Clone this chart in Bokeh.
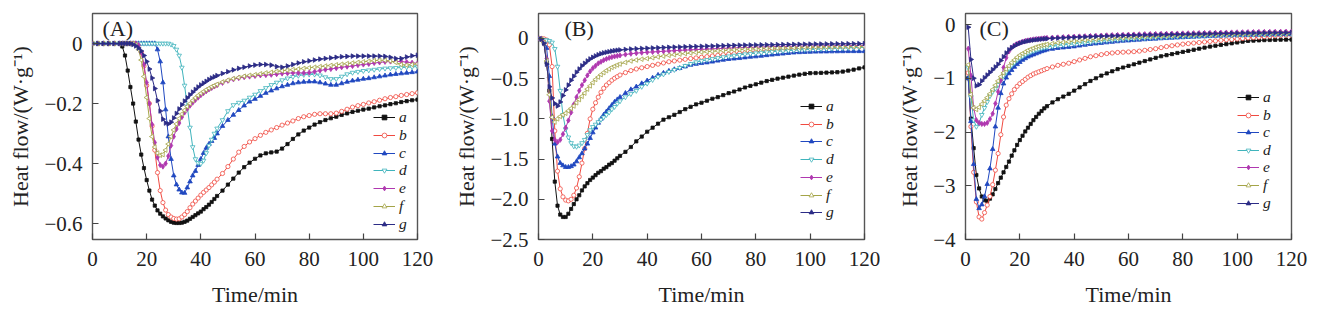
import math
from bokeh.plotting import figure
from bokeh.models import (Range1d, FixedTicker, CustomJSTickFormatter, Legend,
                          LegendItem, Label)
from bokeh.layouts import row
from bokeh.embed import file_html
from bokeh.resources import INLINE

# ---------------- data ----------------
SERIES = ["a", "b", "c", "d", "e", "f", "g"]

# time grids (min)
tA = [0, 2, 4, 6, 8, 10] + list(range(11, 47)) + list(range(48, 121, 2))
tB = list(range(0, 31)) + list(range(32, 121, 2))
tC = list(range(1, 31)) + list(range(32, 121, 2))

# Panel A  (W/g)
A_a = [0]*6 + [-0.01, -0.04, -0.09, -0.145, -0.2, -0.26, -0.32, -0.37, -0.415, -0.455,
               -0.49, -0.52, -0.54, -0.556, -0.567, -0.576, -0.583, -0.589, -0.594, -0.597,
               -0.598, -0.598, -0.597, -0.594, -0.59, -0.584, -0.578, -0.572, -0.566, -0.56,
               -0.552, -0.545, -0.537, -0.528, -0.518, -0.508] + \
      [-0.49, -0.47, -0.45, -0.43, -0.412, -0.397, -0.384, -0.373, -0.366, -0.363, -0.36, -0.35,
       -0.335, -0.318, -0.303, -0.29, -0.28, -0.27, -0.262, -0.255, -0.249, -0.244, -0.238, -0.233,
       -0.228, -0.224, -0.22, -0.217, -0.213, -0.209, -0.206, -0.202, -0.199, -0.195, -0.192, -0.189, -0.187]
A_b = [0]*12 + [-0.005, -0.03, -0.075, -0.14, -0.2, -0.275, -0.355, -0.43, -0.49, -0.53,
                -0.555, -0.57, -0.578, -0.583, -0.585, -0.584, -0.578, -0.57, -0.56, -0.547,
                -0.535, -0.525, -0.515, -0.505, -0.496, -0.488, -0.48, -0.471, -0.462, -0.452] + \
      [-0.433, -0.41, -0.385, -0.362, -0.343, -0.328, -0.317, -0.306, -0.296, -0.288, -0.28, -0.272,
       -0.265, -0.258, -0.25, -0.244, -0.24, -0.236, -0.234, -0.234, -0.234, -0.232, -0.226, -0.219,
       -0.212, -0.207, -0.203, -0.198, -0.194, -0.189, -0.184, -0.18, -0.177, -0.173, -0.17, -0.167, -0.164]
A_c = [0]*19 + [-0.02, -0.06, -0.13, -0.22, -0.31, -0.385, -0.44, -0.47, -0.487, -0.497,
                -0.498, -0.48, -0.46, -0.44, -0.425, -0.405, -0.385, -0.365, -0.348, -0.335,
                -0.325, -0.315, -0.3] + \
      [-0.275, -0.255, -0.238, -0.222, -0.207, -0.194, -0.185, -0.175, -0.165, -0.157, -0.15, -0.143,
       -0.138, -0.133, -0.13, -0.128, -0.127, -0.127, -0.13, -0.134, -0.138, -0.138, -0.133, -0.128,
       -0.124, -0.121, -0.118, -0.116, -0.113, -0.11, -0.107, -0.104, -0.102, -0.1, -0.098, -0.096, -0.094]
A_d = [0]*24 + [-0.003, -0.008, -0.02, -0.04, -0.08, -0.14, -0.21, -0.28, -0.345, -0.385,
                -0.398, -0.4, -0.39, -0.365, -0.34, -0.32, -0.3, -0.283] + \
      [-0.255, -0.225, -0.205, -0.197, -0.19, -0.18, -0.17, -0.158, -0.148, -0.138, -0.13, -0.122,
       -0.116, -0.111, -0.107, -0.104, -0.103, -0.103, -0.106, -0.112, -0.118, -0.118, -0.11, -0.102,
       -0.097, -0.094, -0.091, -0.089, -0.087, -0.085, -0.083, -0.082, -0.081, -0.08, -0.079, -0.078, -0.077]
A_e = [0]*12 + [-0.005, -0.03, -0.07, -0.13, -0.2, -0.27, -0.33, -0.38, -0.405, -0.41,
                -0.4, -0.375, -0.34, -0.31, -0.285, -0.265, -0.245, -0.23, -0.218, -0.207,
                -0.197, -0.188, -0.18, -0.172, -0.165, -0.159, -0.153, -0.148, -0.143, -0.139] + \
      [-0.131, -0.124, -0.119, -0.115, -0.112, -0.11, -0.108, -0.106, -0.105, -0.104, -0.102, -0.1,
       -0.099, -0.098, -0.098, -0.098, -0.097, -0.094, -0.09, -0.087, -0.085, -0.082, -0.079, -0.077,
       -0.075, -0.072, -0.07, -0.068, -0.065, -0.063, -0.061, -0.06, -0.06, -0.06, -0.062, -0.064, -0.066]
A_f = [0]*11 + [-0.005, -0.02, -0.055, -0.11, -0.18, -0.25, -0.31, -0.345, -0.365, -0.372,
                -0.37, -0.355, -0.335, -0.31, -0.288, -0.268, -0.25, -0.235, -0.222, -0.21,
                -0.2, -0.19, -0.181, -0.173, -0.166, -0.16, -0.154, -0.149, -0.144, -0.14, -0.136] + \
      [-0.128, -0.122, -0.117, -0.113, -0.109, -0.106, -0.104, -0.101, -0.098, -0.096, -0.093, -0.091,
       -0.089, -0.087, -0.085, -0.083, -0.081, -0.079, -0.077, -0.075, -0.073, -0.071, -0.069, -0.067,
       -0.065, -0.063, -0.061, -0.059, -0.057, -0.056, -0.056, -0.058, -0.063, -0.07, -0.072, -0.07, -0.068]
A_g = [0]*10 + [-0.003, -0.008, -0.015, -0.025, -0.04, -0.06, -0.085, -0.115, -0.15, -0.19,
                -0.225, -0.252, -0.265, -0.268, -0.262, -0.248, -0.233, -0.218, -0.204, -0.192,
                -0.181, -0.171, -0.162, -0.153, -0.145, -0.138, -0.132, -0.126, -0.12, -0.115,
                -0.111, -0.107] + \
      [-0.1, -0.094, -0.088, -0.083, -0.079, -0.075, -0.072, -0.07, -0.07, -0.072, -0.077, -0.079,
       -0.075, -0.07, -0.065, -0.061, -0.058, -0.055, -0.052, -0.05, -0.048, -0.046, -0.044, -0.043,
       -0.042, -0.042, -0.042, -0.042, -0.042, -0.042, -0.043, -0.046, -0.05, -0.05, -0.045, -0.041, -0.039]

# Panel B
B_a = [0, -0.01, -0.06, -0.3, -0.65, -1.25, -1.78, -2.08, -2.19, -2.22, -2.22,
       -2.18, -2.12, -2.06, -2.0, -1.95, -1.89, -1.84, -1.8, -1.76, -1.73,
       -1.7, -1.67, -1.65, -1.62, -1.6, -1.57, -1.55, -1.52, -1.49, -1.46,
       -1.41, -1.35, -1.28, -1.22, -1.16, -1.11, -1.06, -1.01, -0.98, -0.95,
       -0.915, -0.88, -0.85, -0.82, -0.8, -0.775, -0.75, -0.73, -0.705, -0.68,
       -0.66, -0.635, -0.61, -0.59, -0.57, -0.55, -0.53, -0.515, -0.5, -0.488,
       -0.475, -0.462, -0.45, -0.44, -0.432, -0.43, -0.428, -0.425, -0.423, -0.42,
       -0.412, -0.4, -0.388, -0.373, -0.36]
B_b = [0, 0, -0.005, -0.02, -0.08, -0.35, -1.15, -1.65, -1.87, -1.97, -2.01,
       -2.02, -2.0, -1.95, -1.86, -1.72, -1.55, -1.37, -1.18, -1.0, -0.88,
       -0.8, -0.73, -0.67, -0.62, -0.58, -0.55, -0.52, -0.495, -0.475, -0.455,
       -0.425, -0.4, -0.38, -0.365, -0.35, -0.335, -0.32, -0.305, -0.29, -0.28,
       -0.27, -0.26, -0.25, -0.242, -0.234, -0.226, -0.218, -0.21, -0.203, -0.196,
       -0.19, -0.184, -0.178, -0.172, -0.166, -0.16, -0.155, -0.15, -0.145, -0.14,
       -0.136, -0.132, -0.128, -0.124, -0.12, -0.117, -0.114, -0.111, -0.108, -0.105,
       -0.103, -0.101, -0.1, -0.099, -0.098]
B_c = [0, -0.005, -0.04, -0.12, -0.47, -0.97, -1.31, -1.47, -1.55, -1.58, -1.6,
       -1.6, -1.59, -1.57, -1.53, -1.48, -1.43, -1.37, -1.31, -1.24, -1.17,
       -1.11, -1.05, -1.0, -0.95, -0.91, -0.87, -0.83, -0.79, -0.76, -0.73,
       -0.68, -0.635, -0.6, -0.56, -0.525, -0.49, -0.455, -0.43, -0.405, -0.385,
       -0.37, -0.35, -0.33, -0.318, -0.308, -0.3, -0.29, -0.278, -0.267, -0.258,
       -0.252, -0.246, -0.238, -0.23, -0.225, -0.218, -0.21, -0.203, -0.197, -0.19,
       -0.183, -0.177, -0.173, -0.17, -0.168, -0.166, -0.165, -0.164, -0.163, -0.162,
       -0.161, -0.16, -0.16, -0.16, -0.16]
B_d = [0, -0.01, -0.02, -0.02, -0.03, -0.05, -0.13, -0.35, -0.65, -0.95, -1.13,
       -1.23, -1.3, -1.34, -1.345, -1.33, -1.3, -1.26, -1.2, -1.14, -1.1,
       -1.07, -1.04, -1.01, -0.98, -0.95, -0.92, -0.88, -0.85, -0.81, -0.78,
       -0.73, -0.69, -0.65, -0.6, -0.56, -0.515, -0.475, -0.445, -0.415, -0.39,
       -0.365, -0.34, -0.315, -0.295, -0.28, -0.267, -0.255, -0.243, -0.232, -0.222,
       -0.213, -0.204, -0.196, -0.19, -0.183, -0.177, -0.171, -0.165, -0.16, -0.155,
       -0.151, -0.147, -0.143, -0.14, -0.137, -0.134, -0.131, -0.128, -0.125, -0.122,
       -0.12, -0.117, -0.115, -0.112, -0.11]
B_e = [0, -0.01, -0.05, -0.25, -0.78, -1.15, -1.26, -1.29, -1.26, -1.19, -1.11,
       -1.02, -0.92, -0.82, -0.73, -0.65, -0.58, -0.52, -0.46, -0.41, -0.37,
       -0.34, -0.31, -0.29, -0.27, -0.255, -0.242, -0.232, -0.224, -0.217, -0.211,
       -0.2, -0.19, -0.183, -0.177, -0.172, -0.168, -0.164, -0.16, -0.156, -0.152,
       -0.148, -0.145, -0.142, -0.139, -0.136, -0.133, -0.13, -0.127, -0.124, -0.121,
       -0.118, -0.115, -0.113, -0.111, -0.109, -0.107, -0.105, -0.103, -0.101, -0.099,
       -0.098, -0.097, -0.096, -0.095, -0.094, -0.093, -0.092, -0.092, -0.091, -0.091,
       -0.09, -0.09, -0.09, -0.09, -0.09]
B_f = [0, -0.01, -0.05, -0.28, -0.7, -0.98, -1.04, -1.0, -0.97, -0.95, -0.93,
       -0.9, -0.87, -0.84, -0.8, -0.76, -0.72, -0.68, -0.63, -0.59, -0.55,
       -0.51, -0.48, -0.45, -0.425, -0.4, -0.38, -0.36, -0.345, -0.33, -0.318,
       -0.298, -0.28, -0.268, -0.258, -0.25, -0.24, -0.23, -0.22, -0.21, -0.202,
       -0.195, -0.188, -0.181, -0.175, -0.17, -0.165, -0.16, -0.155, -0.15, -0.146,
       -0.142, -0.138, -0.135, -0.132, -0.129, -0.126, -0.124, -0.122, -0.12, -0.118,
       -0.116, -0.114, -0.112, -0.11, -0.108, -0.107, -0.106, -0.105, -0.104, -0.103,
       -0.102, -0.101, -0.1, -0.1, -0.1]
B_g = [0, -0.01, -0.06, -0.32, -0.6, -0.74, -0.81, -0.84, -0.79, -0.71, -0.64,
       -0.58, -0.52, -0.47, -0.42, -0.38, -0.34, -0.31, -0.28, -0.255, -0.235,
       -0.218, -0.203, -0.19, -0.18, -0.172, -0.165, -0.158, -0.152, -0.147, -0.143,
       -0.137, -0.132, -0.128, -0.125, -0.122, -0.119, -0.116, -0.113, -0.11, -0.108,
       -0.106, -0.104, -0.102, -0.1, -0.098, -0.096, -0.094, -0.092, -0.09, -0.088,
       -0.086, -0.084, -0.083, -0.082, -0.081, -0.08, -0.079, -0.078, -0.077, -0.076,
       -0.075, -0.074, -0.073, -0.072, -0.071, -0.07, -0.07, -0.069, -0.068, -0.067,
       -0.067, -0.066, -0.066, -0.065, -0.065]

# Panel C
C_a = [-1.0, -1.75, -2.3, -2.8, -3.05, -3.2, -3.27, -3.28, -3.24, -3.16,
       -3.06, -2.95, -2.85, -2.75, -2.65, -2.55, -2.44, -2.34, -2.24, -2.15,
       -2.07, -1.99, -1.92, -1.85, -1.78, -1.72, -1.66, -1.61, -1.56, -1.52,
       -1.45, -1.39, -1.34, -1.29, -1.23, -1.17, -1.11, -1.05, -1.0, -0.95,
       -0.91, -0.87, -0.83, -0.8, -0.77, -0.74, -0.71, -0.68, -0.65, -0.62,
       -0.59, -0.57, -0.55, -0.53, -0.51, -0.49, -0.47, -0.45, -0.43, -0.41,
       -0.395, -0.38, -0.365, -0.35, -0.335, -0.32, -0.305, -0.3, -0.295, -0.29,
       -0.288, -0.285, -0.283, -0.281, -0.28]
C_b = [-0.9, -1.9, -2.75, -3.3, -3.58, -3.62, -3.5, -3.36, -3.2, -2.98,
       -2.71, -2.4, -2.05, -1.72, -1.5, -1.38, -1.29, -1.21, -1.15, -1.1,
       -1.06, -1.02, -0.98, -0.95, -0.92, -0.9, -0.88, -0.86, -0.84, -0.82,
       -0.79, -0.76, -0.74, -0.72, -0.69, -0.66, -0.63, -0.6, -0.58, -0.56,
       -0.54, -0.53, -0.52, -0.515, -0.51, -0.505, -0.495, -0.48, -0.465, -0.45,
       -0.43, -0.41, -0.395, -0.38, -0.365, -0.355, -0.345, -0.335, -0.325, -0.315,
       -0.305, -0.295, -0.285, -0.278, -0.27, -0.26, -0.25, -0.243, -0.236, -0.228,
       -0.22, -0.212, -0.205, -0.2, -0.195]
C_c = [-1.0, -1.8, -2.6, -3.25, -3.42, -3.35, -3.2, -2.97, -2.68, -2.32,
       -1.9, -1.55, -1.28, -1.1, -0.99, -0.91, -0.85, -0.79, -0.74, -0.7,
       -0.66, -0.63, -0.6, -0.58, -0.56, -0.54, -0.52, -0.5, -0.485, -0.47,
       -0.455, -0.44, -0.43, -0.42, -0.41, -0.395, -0.38, -0.365, -0.355, -0.345,
       -0.335, -0.325, -0.315, -0.305, -0.3, -0.293, -0.285, -0.278, -0.272, -0.266,
       -0.26, -0.255, -0.25, -0.245, -0.24, -0.235, -0.23, -0.226, -0.222, -0.218,
       -0.214, -0.21, -0.207, -0.204, -0.2, -0.198, -0.196, -0.194, -0.192, -0.19,
       -0.188, -0.186, -0.185, -0.184, -0.183]
C_d = [-0.8, -1.35, -1.78, -1.9, -1.84, -1.68, -1.55, -1.44, -1.33, -1.25,
       -1.19, -1.12, -1.04, -0.95, -0.88, -0.82, -0.76, -0.71, -0.66, -0.62,
       -0.59, -0.56, -0.53, -0.51, -0.49, -0.47, -0.455, -0.44, -0.43, -0.42,
       -0.405, -0.39, -0.38, -0.37, -0.36, -0.35, -0.34, -0.33, -0.32, -0.31,
       -0.3, -0.292, -0.284, -0.277, -0.27, -0.264, -0.258, -0.252, -0.247, -0.242,
       -0.237, -0.233, -0.229, -0.225, -0.221, -0.217, -0.214, -0.211, -0.208, -0.205,
       -0.202, -0.199, -0.196, -0.194, -0.192, -0.19, -0.188, -0.186, -0.184, -0.182,
       -0.18, -0.179, -0.178, -0.177, -0.176]
C_e = [-0.45, -0.95, -1.55, -1.78, -1.83, -1.85, -1.85, -1.83, -1.76, -1.66,
       -1.47, -1.25, -1.04, -0.8, -0.62, -0.5, -0.43, -0.39, -0.36, -0.34,
       -0.32, -0.305, -0.295, -0.285, -0.277, -0.27, -0.265, -0.26, -0.255, -0.25,
       -0.245, -0.24, -0.235, -0.23, -0.226, -0.222, -0.218, -0.214, -0.21, -0.206,
       -0.202, -0.198, -0.195, -0.192, -0.189, -0.186, -0.183, -0.18, -0.178, -0.176,
       -0.174, -0.172, -0.17, -0.168, -0.166, -0.164, -0.162, -0.16, -0.158, -0.156,
       -0.154, -0.152, -0.15, -0.148, -0.146, -0.144, -0.142, -0.14, -0.138, -0.137,
       -0.136, -0.135, -0.134, -0.133, -0.132]
C_f = [-0.75, -1.3, -1.55, -1.58, -1.54, -1.48, -1.42, -1.36, -1.29, -1.21,
       -1.13, -1.05, -0.97, -0.9, -0.83, -0.77, -0.71, -0.66, -0.61, -0.57,
       -0.54, -0.51, -0.48, -0.46, -0.44, -0.42, -0.405, -0.39, -0.38, -0.37,
       -0.355, -0.34, -0.33, -0.32, -0.31, -0.3, -0.29, -0.282, -0.275, -0.268,
       -0.262, -0.256, -0.25, -0.245, -0.24, -0.235, -0.23, -0.226, -0.222, -0.218,
       -0.214, -0.21, -0.207, -0.204, -0.201, -0.198, -0.195, -0.192, -0.19, -0.188,
       -0.186, -0.184, -0.182, -0.18, -0.178, -0.176, -0.174, -0.172, -0.17, -0.168,
       -0.166, -0.165, -0.164, -0.163, -0.162]
C_g = [-0.05, -0.65, -1.0, -1.14, -1.12, -1.05, -0.99, -0.94, -0.89, -0.84,
       -0.79, -0.74, -0.67, -0.6, -0.53, -0.47, -0.43, -0.4, -0.37, -0.35,
       -0.33, -0.318, -0.307, -0.297, -0.29, -0.283, -0.277, -0.272, -0.267, -0.263,
       -0.257, -0.252, -0.247, -0.242, -0.238, -0.234, -0.23, -0.226, -0.222, -0.218,
       -0.215, -0.212, -0.209, -0.206, -0.203, -0.2, -0.198, -0.196, -0.194, -0.192,
       -0.19, -0.188, -0.186, -0.184, -0.182, -0.18, -0.178, -0.176, -0.174, -0.172,
       -0.17, -0.168, -0.166, -0.164, -0.162, -0.16, -0.158, -0.157, -0.156, -0.155,
       -0.154, -0.153, -0.152, -0.151, -0.15]

# ticks / labels
x_ticks = [0, 20, 40, 60, 80, 100, 120]
x_labels = ["0", "20", "40", "60", "80", "100", "120"]
yA_ticks = [0, -0.2, -0.4, -0.6]
yA_labels = ["0", "\u22120.2", "\u22120.4", "\u22120.6"]
yB_ticks = [0, -0.5, -1.0, -1.5, -2.0, -2.5]
yB_labels = ["0", "\u22120.5", "\u22121.0", "\u22121.5", "\u22122.0", "\u22122.5"]
yC_ticks = [0, -1, -2, -3, -4]
yC_labels = ["0", "\u22121", "\u22122", "\u22123", "\u22124"]

# ---------------- style ----------------
SERIF = "Liberation Serif"
STYLE = {
    "a": dict(color="#111111", marker="square", fill="#111111", angle=0.0, size=3.2),
    "b": dict(color="#f04a40", marker="circle", fill="white", angle=0.0, size=4.2),
    "c": dict(color="#2048c0", marker="triangle", fill="#2048c0", angle=0.0, size=4.6),
    "d": dict(color="#40b4bc", marker="inverted_triangle", fill="white", angle=0.0, size=4.6),
    "e": dict(color="#b038b0", marker="diamond", fill="#b038b0", angle=0.0, size=5.2),
    "f": dict(color="#a4a448", marker="triangle", fill="white", angle=math.pi/2, size=4.6),
    "g": dict(color="#2c2c86", marker="triangle", fill="#2c2c86", angle=-math.pi/2, size=4.6),
}


def make_panel(tag, t, data, yr, yt, yl, lbl_dx, leg_x, leg_top, leg_dy,
               bl, br):
    p = figure(frame_width=326 if tag != "A" else 325, frame_height=226,
               min_border_left=bl, min_border_right=br,
               min_border_top=13, min_border_bottom=85,
               x_range=Range1d(0, 120), y_range=Range1d(*yr),
               output_backend="svg", toolbar_location=None,
               background_fill_color="white", border_fill_color="white")
    p.grid.visible = False
    p.outline_line_color = "#555555"
    p.outline_line_width = 1.4
    for ax in (p.xaxis[0], p.yaxis[0]):
        ax.axis_line_color = None
        ax.major_tick_in = 6
        ax.major_tick_out = 0
        ax.minor_tick_line_color = None
        ax.major_tick_line_color = "#444444"
        ax.major_tick_line_width = 1.2
        ax.major_label_text_font = SERIF
        ax.major_label_text_font_size = "21px"
        ax.major_label_text_color = "#222222"
        ax.axis_label_text_font = SERIF
        ax.axis_label_text_font_size = "22px"
        ax.axis_label_text_font_style = "normal"
        ax.axis_label_text_color = "#222222"
    p.xaxis.ticker = FixedTicker(ticks=x_ticks)
    p.xaxis.formatter = CustomJSTickFormatter(
        args=dict(vals=x_ticks, labs=x_labels),
        code="for (let i=0;i<vals.length;i++){if(Math.abs(vals[i]-tick)<1e-6) return labs[i];} return '';")
    p.yaxis.ticker = FixedTicker(ticks=yt)
    p.yaxis.formatter = CustomJSTickFormatter(
        args=dict(vals=yt, labs=yl),
        code="for (let i=0;i<vals.length;i++){if(Math.abs(vals[i]-tick)<1e-6) return labs[i];} return '';")
    p.xaxis.major_label_standoff = 12
    p.yaxis.major_label_standoff = 10
    p.xaxis.axis_label = "Time/min"
    p.yaxis.axis_label = "Heat flow/(W\u00b7g\u207b\u00b9)"
    p.xaxis.axis_label_standoff = 13
    p.yaxis.axis_label_standoff = 8

    for i, (name, y) in enumerate(zip(SERIES, data)):
        s = STYLE[name]
        rl = p.line(t, y, line_color=s["color"], line_width=1.0)
        rs = p.scatter(t, y, marker=s["marker"], size=s["size"], angle=s["angle"],
                       line_color=s["color"], fill_color=s["fill"], line_width=0.8)
        lg = Legend(items=[LegendItem(label=name, renderers=[rl, rs])],
                    location=(leg_x, 226 - (leg_top + i*leg_dy) - 8),
                    glyph_width=22, glyph_height=12, label_height=12,
                    label_standoff=4, padding=0, margin=0, spacing=0,
                    border_line_alpha=0, background_fill_alpha=0,
                    label_text_font=SERIF, label_text_font_style="italic",
                    label_text_font_size="15.5px", label_text_color="#222222")
        p.add_layout(lg, "center")

    p.add_layout(Label(x=lbl_dx, y=211, x_units="screen", y_units="screen",
                       text="(" + tag + ")", text_font=SERIF, text_font_size="22px",
                       text_color="#222222", text_baseline="middle"))
    return p


pA = make_panel("A", tA, [A_a, A_b, A_c, A_d, A_e, A_f, A_g], (-0.653, 0.1),
                yA_ticks, yA_labels, 10, 281, 105, 17.8, 92, 23)
pB = make_panel("B", tB, [B_a, B_b, B_c, B_d, B_e, B_f, B_g], (-2.5, 0.31),
                yB_ticks, yB_labels, 26, 262, 94, 17.7, 98, 16)
pC = make_panel("C", tC, [C_a, C_b, C_c, C_d, C_e, C_f, C_g], (-4.0, 0.205),
                yC_ticks, yC_labels, 14, 272, 85, 17.6, 85, 32)

layout = row(pA, pB, pC, spacing=0)
open("out.html", "w").write(file_html(layout, INLINE))
